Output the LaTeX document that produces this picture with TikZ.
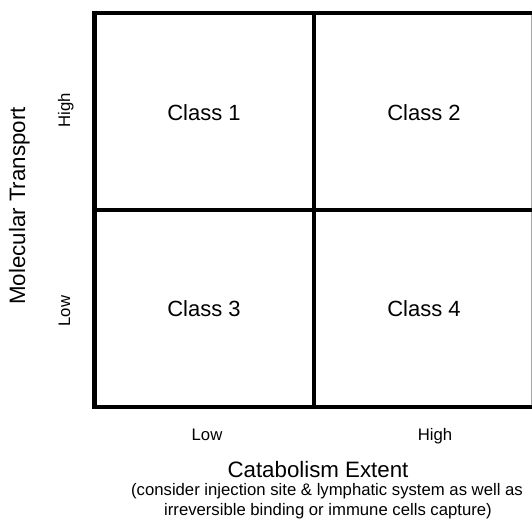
\documentclass[tikz,border=0pt]{standalone}
\usepackage{fontspec}
\setmainfont{Liberation Sans}
\begin{document}
\begin{tikzpicture}[x=1pt,y=-1pt,
  gridline/.style={line width=4.6pt,black},
  celllabel/.style={anchor=base,inner sep=0pt,font=\fontsize{22}{26}\selectfont},
  axistitle/.style={anchor=base,inner sep=0pt,font=\fontsize{22.3}{26}\selectfont},
  ticklabel/.style={anchor=base,inner sep=0pt,font=\fontsize{16.7}{20}\selectfont}]
  \useasboundingbox (0,0) rectangle (532,520);

  % thin right border
  \draw[line width=1pt,black!35] (531,13) -- (531,407);
  % outer frame and dividing lines
  \draw[gridline] (92,13) -- (532,13);
  \draw[gridline] (92,407) -- (532,407);
  \draw[gridline] (94.5,10.7) -- (94.5,409.3);
  \draw[gridline] (314,13) -- (314,407);
  \draw[gridline] (94.5,210) -- (532,210);

  % quadrant labels
  \node[celllabel] (c1) at (204,120) {Class 1};
  \node[celllabel] (c2) at (424,120) {Class 2};
  \node[celllabel] (c3) at (204,316.5) {Class 3};
  \node[celllabel] (c4) at (424,316.5) {Class 4};

  % vertical axis
  \node[ticklabel,rotate=90] (yhigh) at (70,110) {High};
  \node[ticklabel,rotate=90] (ylow) at (70,311) {Low};
  \node[axistitle,rotate=90] (ytitle) at (25,206) {Molecular Transport};

  % horizontal axis
  \node[ticklabel] (xlow) at (207,440) {Low};
  \node[ticklabel] (xhigh) at (435,440) {High};
  \node[axistitle] (xtitle) at (318,477) {Catabolism Extent};
  \node[ticklabel] (note1) at (327,495.5) {(consider injection site \& lymphatic system as well as};
  \node[ticklabel] (note2) at (328,515.5) {irreversible binding or immune cells capture)};
\end{tikzpicture}
\end{document}
